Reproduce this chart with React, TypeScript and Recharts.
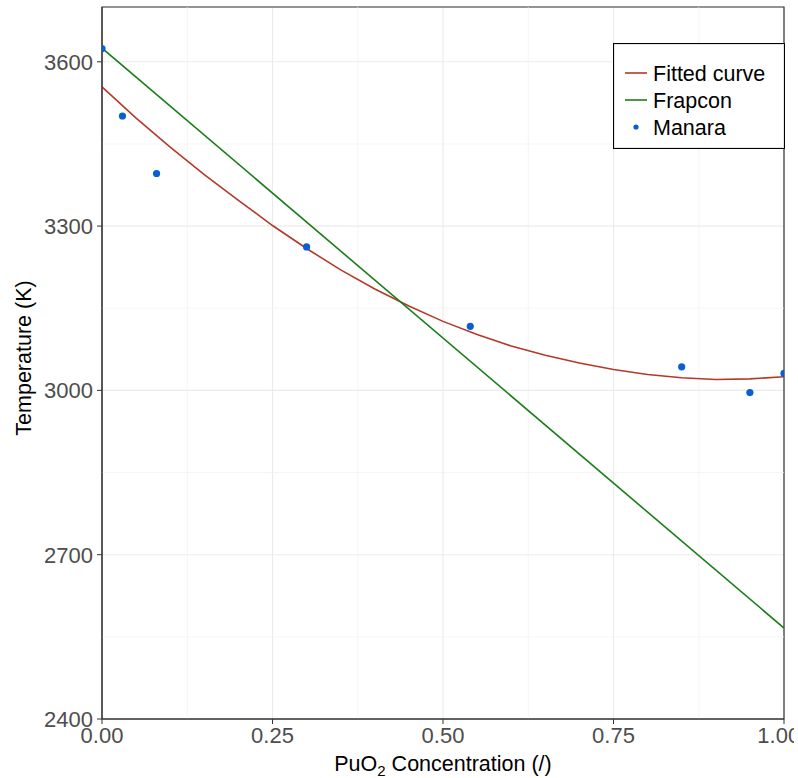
import { ComposedChart, Line, Scatter, XAxis, YAxis, CartesianGrid, ReferenceLine, ReferenceArea, Legend } from "recharts";

// fitted curve
const fitX = [0, 0.05, 0.1, 0.15, 0.2, 0.25, 0.3, 0.35, 0.4, 0.45, 0.5, 0.55, 0.6, 0.65, 0.7, 0.75, 0.8, 0.85, 0.9, 0.95, 1.0];
const fitT = [3554, 3497, 3444, 3394, 3347, 3301, 3259, 3220, 3185, 3154, 3126, 3102, 3081, 3064, 3050, 3038, 3029, 3023, 3020, 3021, 3025];

const frapconX = [0, 1];
const frapconT = [3625, 2566];

const manaraX = [0, 0.03, 0.08, 0.3, 0.54, 0.85, 0.95, 1.0];
const manaraT = [3624, 3501, 3396, 3262, 3117, 3043, 2996, 3031];

const xTicks = [0, 0.25, 0.5, 0.75, 1];
const yTicks = [2400, 2700, 3000, 3300, 3600];
const xMinor = [0.125, 0.375, 0.625, 0.875];
const yMinor = [2550, 2850, 3150, 3450];

const legendItems = [
  { name: "Fitted curve", color: "#b5392a", kind: "line" },
  { name: "Frapcon", color: "#1a7d1a", kind: "line" },
  { name: "Manara", color: "#0a5fd0", kind: "point" },
];

const fitData = fitX.map((x, i) => ({ x, y: fitT[i] }));
const frapconData = frapconX.map((x, i) => ({ x, y: frapconT[i] }));
const manaraData = manaraX.map((x, i) => ({ x, y: manaraT[i] }));

const FONT = "'Liberation Sans', Arial, sans-serif";

const LegendBox = () => (
  <svg width={172} height={106} style={{ display: "block" }}>
    <rect x={0.5} y={0.5} width={171} height={105} fill="#fff" stroke="#000" strokeWidth={1.2} />
    {legendItems.map((it, i) => {
      const cy = 30 + i * 27;
      return (
        <g key={it.name}>
          {it.kind === "line" ? (
            <line x1={12} x2={34} y1={cy} y2={cy} stroke={it.color} strokeWidth={1.6} />
          ) : (
            <circle cx={23} cy={cy} r={2.6} fill={it.color} />
          )}
          <text x={40} y={cy + 8} fontSize={21.5} fontFamily={FONT} fill="#000">
            {it.name}
          </text>
        </g>
      );
    })}
  </svg>
);

const Dot = (props: any) => <circle cx={props.cx} cy={props.cy} r={3.6} fill="#0a5fd0" />;

export default function App() {
  return (
    <div style={{ position: "absolute", top: 0, left: 0, width: 794, height: 778, overflow: "hidden", background: "#fff", fontFamily: FONT }}>
      <ComposedChart width={798} height={778} margin={{ top: 7, right: 14, bottom: 0, left: 0 }}>
        <CartesianGrid stroke="#ebebeb" strokeWidth={1.1} />
        {xMinor.map((v) => (
          <ReferenceLine key={`vx${v}`} x={v} stroke="#f0f0f0" strokeWidth={0.7} />
        ))}
        {yMinor.map((v) => (
          <ReferenceLine key={`hy${v}`} y={v} stroke="#f0f0f0" strokeWidth={0.7} />
        ))}
        <XAxis
          dataKey="x"
          type="number"
          domain={[0, 1]}
          ticks={xTicks}
          allowDataOverflow
          tickFormatter={(v: number) => v.toFixed(2)}
          height={59}
          tickSize={5}
          tickMargin={3}
          stroke="#333"
          tick={{ fontSize: 22, fill: "#4d4d4d", fontFamily: FONT }}
          label={() => (
            <text x={443} y={771} textAnchor="middle" fontSize={21.5} fontFamily={FONT} fill="#000">
              PuO<tspan fontSize={15} dy={5}>2</tspan>
              <tspan dy={-5}> Concentration (/)</tspan>
            </text>
          )}
        />
        <YAxis
          type="number"
          domain={[2400, 3700]}
          ticks={yTicks}
          allowDataOverflow
          width={102}
          tickSize={5}
          tickMargin={4}
          stroke="#333"
          tick={{ fontSize: 22, fill: "#4d4d4d", fontFamily: FONT }}
          label={() => (
            <text
              x={0}
              y={0}
              transform="translate(31, 358) rotate(-90)"
              textAnchor="middle"
              fontSize={21.5}
              fontFamily={FONT}
              fill="#000"
            >
              Temperature (K)
            </text>
          )}
        />
        <ReferenceArea x1={0} x2={1} y1={2400} y2={3700} ifOverflow="visible" fill="none" stroke="#333" strokeWidth={1.2} />
        <Line data={fitData} dataKey="y" type="linear" stroke="#b5392a" strokeWidth={1.6} dot={false} isAnimationActive={false} />
        <Line data={frapconData} dataKey="y" type="linear" stroke="#1a7d1a" strokeWidth={1.6} dot={false} isAnimationActive={false} />
        <Scatter data={manaraData} dataKey="y" shape={<Dot />} isAnimationActive={false} />
        <Legend
          layout="vertical"
          align="center"
          verticalAlign="middle"
          content={() => <LegendBox />}
          wrapperStyle={{ position: "absolute", top: 43, left: 613, width: 172, height: 106 }}
        />
      </ComposedChart>
    </div>
  );
}
